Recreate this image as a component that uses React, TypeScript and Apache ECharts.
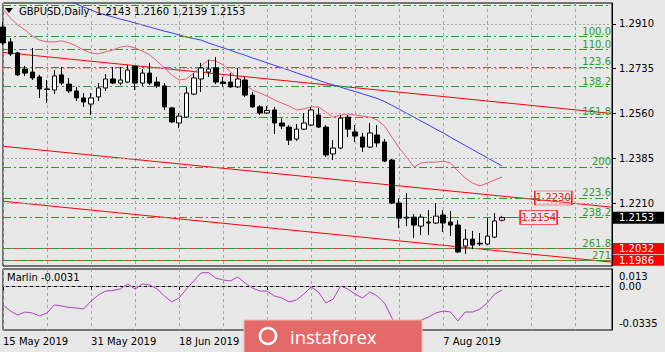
import React, { useEffect, useRef } from "react";
import * as echarts from "echarts";

// ---- categories (trading days) ----
const mayDays = [15, 16, 17, 20, 21, 22, 23, 24, 27, 28, 29, 30, 31];
const junDays = [3, 4, 5, 6, 7, 10, 11, 12, 13, 14, 17, 18, 19, 20, 21, 24, 25, 26, 27, 28];
const julDays = [1, 2, 3, 4, 5, 8, 9, 10, 11, 12, 15, 16, 17, 18, 19, 22, 23, 24, 25, 26, 29, 30, 31];
const augDays = [1, 2, 5, 6, 7, 8, 9, 12, 13, 14, 15, 16, 19];
const SLOTS = 84; // visible bar slots on the chart
// date labels covered by the watermark in the reference
const hiddenLabelSlots = [36, 48];

// ---- candles: [open, close, low, high] ----
const candles = [
  [1.2898, 1.2836, 1.2828, 1.2918],
  [1.2840, 1.2793, 1.2785, 1.2855],
  [1.2797, 1.2711, 1.2707, 1.2801],
  [1.2734, 1.2718, 1.2707, 1.2746],
  [1.2722, 1.2699, 1.2691, 1.2816],
  [1.2703, 1.2656, 1.2621, 1.2711],
  [1.2656, 1.2654, 1.2601, 1.2691],
  [1.2652, 1.2707, 1.2636, 1.2730],
  [1.2711, 1.2679, 1.2671, 1.2742],
  [1.2675, 1.2648, 1.2640, 1.2699],
  [1.2648, 1.2621, 1.2609, 1.2664],
  [1.2621, 1.2605, 1.2586, 1.2640],
  [1.2597, 1.2621, 1.2554, 1.2640],
  [1.2625, 1.2660, 1.2609, 1.2679],
  [1.2660, 1.2695, 1.2648, 1.2714],
  [1.2695, 1.2679, 1.2675, 1.2742],
  [1.2679, 1.2691, 1.2671, 1.2742],
  [1.2683, 1.2730, 1.2679, 1.2750],
  [1.2744, 1.2679, 1.2652, 1.2746],
  [1.2679, 1.2718, 1.2668, 1.2734],
  [1.2718, 1.2679, 1.2671, 1.2758],
  [1.2683, 1.2668, 1.2660, 1.2703],
  [1.2668, 1.2586, 1.2574, 1.2679],
  [1.2582, 1.2527, 1.2523, 1.2586],
  [1.2523, 1.2550, 1.2503, 1.2562],
  [1.2546, 1.2640, 1.2542, 1.2664],
  [1.2636, 1.2699, 1.2632, 1.2718],
  [1.2695, 1.2738, 1.2644, 1.2758],
  [1.2722, 1.2734, 1.2703, 1.2769],
  [1.2738, 1.2683, 1.2675, 1.2781],
  [1.2683, 1.2677, 1.2664, 1.2703],
  [1.2683, 1.2664, 1.2660, 1.2718],
  [1.2664, 1.2695, 1.2660, 1.2738],
  [1.2691, 1.2632, 1.2625, 1.2703],
  [1.2632, 1.2586, 1.2582, 1.2644],
  [1.2586, 1.2562, 1.2554, 1.2593],
  [1.2562, 1.2572, 1.2558, 1.2589],
  [1.2574, 1.2523, 1.2480, 1.2586],
  [1.2523, 1.2511, 1.2499, 1.2542],
  [1.2507, 1.2456, 1.2437, 1.2515],
  [1.2460, 1.2499, 1.2453, 1.2519],
  [1.2499, 1.2523, 1.2496, 1.2562],
  [1.2515, 1.2574, 1.2511, 1.2586],
  [1.2554, 1.2507, 1.2503, 1.2582],
  [1.2507, 1.2398, 1.2390, 1.2515],
  [1.2402, 1.2425, 1.2378, 1.2456],
  [1.2425, 1.2542, 1.2421, 1.2554],
  [1.2546, 1.2499, 1.2468, 1.2554],
  [1.2488, 1.2472, 1.2449, 1.2515],
  [1.2468, 1.2429, 1.2410, 1.2484],
  [1.2429, 1.2484, 1.2425, 1.2523],
  [1.2476, 1.2445, 1.2429, 1.2515],
  [1.2449, 1.2374, 1.2370, 1.2460],
  [1.2378, 1.2210, 1.2206, 1.2382],
  [1.2210, 1.2151, 1.2112, 1.2226],
  [1.2151, 1.2155, 1.2120, 1.2249],
  [1.2155, 1.2124, 1.2073, 1.2167],
  [1.2120, 1.2155, 1.2085, 1.2167],
  [1.2136, 1.2132, 1.2085, 1.2183],
  [1.2132, 1.2159, 1.2128, 1.2210],
  [1.2163, 1.2132, 1.2097, 1.2183],
  [1.2136, 1.2124, 1.2081, 1.2179],
  [1.2124, 1.2019, 1.2015, 1.2143],
  [1.2042, 1.2069, 1.2011, 1.2108],
  [1.2069, 1.2046, 1.2030, 1.2101],
  [1.2053, 1.2050, 1.2042, 1.2093],
  [1.2050, 1.2081, 1.2046, 1.2151],
  [1.2077, 1.2140, 1.2073, 1.2171],
  [1.2143, 1.2153, 1.2139, 1.2160],
];

// ---- moving averages ----
const pinkMA = [
  1.2969, 1.2933, 1.2906, 1.2887, 1.2863, 1.2847, 1.2840, 1.2840, 1.2844, 1.2836,
  1.2824, 1.2808, 1.2797, 1.2793, 1.2801, 1.2808, 1.2820, 1.2824, 1.2816, 1.2804,
  1.2789, 1.2765, 1.2738, 1.2711, 1.2691, 1.2695, 1.2718, 1.2746, 1.2769, 1.2765,
  1.2750, 1.2722, 1.2699, 1.2671, 1.2652, 1.2640, 1.2628, 1.2613, 1.2601, 1.2589,
  1.2574, 1.2578, 1.2586, 1.2586, 1.2566, 1.2546, 1.2554, 1.2558, 1.2554, 1.2550,
  1.2546, 1.2535, 1.2511, 1.2468, 1.2425, 1.2390, 1.2351, 1.2367, 1.2370, 1.2370,
  1.2374, 1.2367, 1.2335, 1.2308, 1.2288, 1.2277, 1.2288, 1.2300, 1.2312,
];
const blueMA = [
  null, null, null, null, null, null, null, null, 1.3012, 1.3000,
  1.2988, 1.2976, 1.2965, 1.2953, 1.2945, 1.2937, 1.2929, 1.2922, 1.2914, 1.2906,
  1.2898, 1.2890, 1.2882, 1.2875, 1.2867, 1.2859, 1.2853, 1.2847, 1.2836, 1.2826,
  1.2817, 1.2807, 1.2797, 1.2788, 1.2777, 1.2768, 1.2758, 1.2748, 1.2739, 1.2729,
  1.2719, 1.2709, 1.2700, 1.2690, 1.2680, 1.2672, 1.2663, 1.2654, 1.2646, 1.2637,
  1.2628, 1.2619, 1.2607, 1.2592, 1.2577, 1.2561, 1.2546, 1.2530, 1.2515, 1.2499,
  1.2484, 1.2467, 1.2451, 1.2435, 1.2419, 1.2403, 1.2387, 1.2371, 1.2355,
];

// ---- Marlin oscillator ----
const marlin = [
  -0.0144, -0.0190, -0.0221, -0.0198, -0.0205, -0.0228, -0.0205, -0.0144, -0.0152, -0.0163,
  -0.0167, -0.0175, -0.0114, -0.0068, -0.0038, -0.0034, -0.0022, 0.0016, -0.0022, 0.0016,
  0.0008, -0.0022, -0.0076, -0.0121, -0.0091, -0.0022, 0.0039, 0.0100, 0.0103, 0.0061,
  0.0046, 0.0039, 0.0069, 0.0023, -0.0015, -0.0038, -0.0038, -0.0076, -0.0091, -0.0121,
  -0.0106, -0.0061, -0.0007, -0.0045, -0.0129, -0.0099, 0.0000, -0.0022, -0.0061, -0.0091,
  -0.0045, -0.0076, -0.0129, -0.0243, -0.0373, -0.0411, -0.0335, -0.0259, -0.0236, -0.0205,
  -0.0190, -0.0198, -0.0266, -0.0198, -0.0198, -0.0175, -0.0129, -0.0061, -0.0031,
];

// ---- trend lines (price at first slot, price at last slot) ----
const upperLine = [1.2799, 1.2560];
const middleLine = [1.2432, 1.2194];
const lowerLine = [1.2217, 1.1979];

// ---- fibonacci expansion levels ----
const fibNames = ["", "100.0", "110.0", "123.6", "138.2", "161.8", "200", "223.6", "238.2", "261.8", "271"];
const fibPrices = [1.2984, 1.2863, 1.2812, 1.2742, 1.2667, 1.2547, 1.2351, 1.2230, 1.2155, 1.2034, 1.1987];

// ---- axis ticks / price labels ----
const priceTicks = [1.2210, 1.2385, 1.2560, 1.2735, 1.2910];
const marlinTicks = [-0.0335, 0, 0.013];
const supportLevels = [1.2032, 1.1986];
const boxLabels = [
  { slot: 75, price: 1.2230 },
  { slot: 73, price: 1.2154 },
];
const priceRange = [1.1964, 1.2992];
const marlinRange = [-0.0335, 0.013];

const FONT = "'DejaVu Sans', Verdana, sans-serif";
const BG = "#e8e8e8";
const GREEN = "#2f9a2f";

function buildOption() {
  const dateLabels = [
    ...mayDays.map((d) => `${d} May 2019`),
    ...junDays.map((d) => `${d} Jun 2019`),
    ...julDays.map((d) => `${d} Jul 2019`),
    ...augDays.map((d) => `${d} Aug 2019`),
  ];
  const cats = Array.from({ length: SLOTS }, (_, i) => dateLabels[i] ?? "");
  const last = candles[candles.length - 1];
  const lastSlot = candles.length - 1;
  const title = `GBPUSD,Daily  ${last[0].toFixed(4)} ${last[3].toFixed(4)} ${last[2].toFixed(4)} ${last[1].toFixed(4)}`;
  const vSplit = {
    show: true,
    interval: (i: number) => i % 6 === 0,
    lineStyle: { color: "#a4a4a4", type: [3, 3], width: 1 },
  };

  return {
    animation: false,
    backgroundColor: BG,
    textStyle: { fontFamily: FONT },
    grid: [
      { left: 3, right: 53, top: 3, bottom: 86, show: true, borderColor: "#000", borderWidth: 1 },
      { left: 3, right: 53, top: 269, bottom: 22, show: true, borderColor: "#000", borderWidth: 1 },
    ],
    xAxis: [
      {
        type: "category",
        gridIndex: 0,
        data: cats,
        boundaryGap: false,
        axisLine: { show: false },
        axisTick: { show: false },
        axisLabel: { show: false },
        splitLine: vSplit,
      },
      {
        type: "category",
        gridIndex: 1,
        data: cats,
        boundaryGap: false,
        axisLine: { show: true, lineStyle: { color: "#000" } },
        axisTick: {
          show: true,
          interval: (i: number) => i % 12 === 0 && i < dateLabels.length,
          length: 4,
          lineStyle: { color: "#000" },
        },
        axisLabel: {
          show: true,
          interval: (i: number) => i % 12 === 0 && !hiddenLabelSlots.includes(i),
          align: "left",
          color: "#000",
          fontSize: 10,
          margin: 6,
          fontFamily: FONT,
        },
        splitLine: vSplit,
      },
    ],
    yAxis: [
      {
        type: "value",
        gridIndex: 0,
        position: "right",
        min: priceRange[0],
        max: priceRange[1],
        axisLine: { show: true, lineStyle: { color: "#000" } },
        axisTick: { show: true, customValues: priceTicks, length: 4, lineStyle: { color: "#000" } },
        axisLabel: {
          customValues: priceTicks,
          formatter: (v: number) => v.toFixed(4),
          color: "#000",
          fontSize: 10,
          margin: 7,
          fontFamily: FONT,
        },
        splitLine: { show: false },
      },
      {
        type: "value",
        gridIndex: 1,
        position: "right",
        min: marlinRange[0],
        max: marlinRange[1],
        axisLine: { show: true, lineStyle: { color: "#000" } },
        axisTick: { show: false },
        axisLabel: {
          customValues: marlinTicks,
          formatter: (v: number) => {
            if (Math.abs(v - marlinRange[1]) < 1e-6) return `{t|${v}}`;
            if (Math.abs(v - marlinRange[0]) < 1e-6) return `{b|${v}}`;
            return v.toFixed(2);
          },
          color: "#000",
          fontSize: 10,
          margin: 7,
          fontFamily: FONT,
          rich: {
            t: { padding: [14, 0, 0, 0], fontSize: 10, color: "#000", fontFamily: FONT },
            b: { padding: [0, 0, 14, 0], fontSize: 10, color: "#000", fontFamily: FONT },
          },
        },
        splitLine: { show: false },
      },
    ],
    series: [
      // horizontal grid + fib levels + support lines
      {
        name: "upper",
        type: "line",
        xAxisIndex: 0,
        yAxisIndex: 0,
        data: [
          [0, upperLine[0]],
          [SLOTS - 1, upperLine[1]],
        ],
        showSymbol: false,
        lineStyle: { color: "#ff0000", width: 1 },
        z: 3,
        silent: true,
        markLine: {
          silent: true,
          precision: 5,
          symbol: ["none", "none"],
          animation: false,
          data: [
            ...priceTicks.map((p) => ({
              yAxis: p,
              lineStyle: { color: "#a8a8a8", type: [2, 2], width: 1 },
              label: { show: false },
            })),
            ...supportLevels.map((p) => ({
              yAxis: p,
              lineStyle: { color: "#f04848", type: "solid", width: 1 },
              label: {
                show: true,
                position: "end",
                distance: 1,
                formatter: p.toFixed(4),
                backgroundColor: "#ff0000",
                color: "#fff",
                fontSize: 10,
                fontFamily: FONT,
                padding: [0, 10, 0, 6],
                lineHeight: 11,
              },
            })),
            ...fibPrices.map((p, k) => ({
              yAxis: p,
              name: fibNames[k],
              lineStyle: { color: GREEN, type: [8, 3, 2, 3], width: 1 },
              label: {
                show: fibNames[k] !== "",
                position: "insideEndTop",
                formatter: "{b}",
                color: GREEN,
                fontSize: 10,
                fontFamily: FONT,
                distance: [1, 0],
              },
            })),
          ],
        },
      },
      {
        name: "middle",
        type: "line",
        xAxisIndex: 0,
        yAxisIndex: 0,
        data: [
          [0, middleLine[0]],
          [SLOTS - 1, middleLine[1]],
        ],
        showSymbol: false,
        lineStyle: { color: "#ff0000", width: 1 },
        z: 3,
        silent: true,
        markLine: {
          silent: true,
          precision: 5,
          symbol: ["none", "none"],
          label: { show: false },
          lineStyle: { color: "#ff2020", type: "solid", width: 1 },
          data: [
            [
              { coord: [lastSlot, boxLabels[1].price] },
              { coord: [lastSlot + 2, boxLabels[1].price] },
            ],
            {
              yAxis: last[1],
              lineStyle: { color: "rgba(0,0,0,0)", width: 0 },
              label: {
                show: true,
                position: "end",
                distance: 1,
                formatter: last[1].toFixed(4),
                backgroundColor: "#000",
                color: "#fff",
                fontSize: 10,
                fontFamily: FONT,
                padding: [1, 10, 1, 6],
              },
            },
          ],
        },
        markPoint: {
          silent: true,
          symbol: "rect",
          symbolSize: [37, 14],
          itemStyle: { color: "rgba(255,255,255,0.12)", borderColor: "#ff2020", borderWidth: 1 },
          label: {
            show: true,
            position: "inside",
            color: "#ee2020",
            fontSize: 10,
            fontFamily: FONT,
            formatter: (p: any) => Number(p.value).toFixed(4),
          },
          data: boxLabels.map((b) => ({ coord: [b.slot, b.price], value: b.price })),
        },
      },
      {
        name: "lower",
        type: "line",
        xAxisIndex: 0,
        yAxisIndex: 0,
        data: [
          [0, lowerLine[0]],
          [SLOTS - 1, lowerLine[1]],
        ],
        showSymbol: false,
        lineStyle: { color: "#ff0000", width: 1 },
        z: 3,
        silent: true,
      },
      {
        name: "MA fast",
        type: "line",
        xAxisIndex: 0,
        yAxisIndex: 0,
        data: pinkMA,
        showSymbol: false,
        lineStyle: { color: "#ec5a76", width: 1 },
        z: 4,
        silent: true,
      },
      {
        name: "MA slow",
        type: "line",
        xAxisIndex: 0,
        yAxisIndex: 0,
        data: blueMA,
        showSymbol: false,
        connectNulls: false,
        lineStyle: { color: "#3a3af0", width: 1 },
        z: 4,
        silent: true,
      },
      {
        name: "GBPUSD",
        type: "candlestick",
        xAxisIndex: 0,
        yAxisIndex: 0,
        data: candles,
        barWidth: 5,
        z: 5,
        itemStyle: {
          color: "#ffffff",
          color0: "#000000",
          borderColor: "#000000",
          borderColor0: "#000000",
          borderWidth: 1,
        },
      },
      {
        name: "Marlin",
        type: "line",
        xAxisIndex: 1,
        yAxisIndex: 1,
        data: marlin,
        showSymbol: false,
        lineStyle: { color: "#b040c0", width: 1 },
        z: 4,
        silent: true,
        markLine: {
          silent: true,
          precision: 5,
          symbol: ["none", "none"],
          label: { show: false },
          data: [{ yAxis: 0, lineStyle: { color: "#a0a0a0", type: [3, 3], width: 1 } }],
        },
      },
    ],
    graphic: [
      {
        type: "polygon",
        shape: { points: [[5, 8], [13, 8], [9, 13]] },
        style: { fill: "#000" },
        z: 100,
      },
      {
        type: "text",
        left: 19,
        top: 6,
        style: { text: title, fill: "#000", font: `10px ${FONT}` },
        z: 100,
      },
      {
        type: "text",
        left: 7,
        top: 272,
        style: { text: `Marlin ${marlin[marlin.length - 1].toFixed(4)}`, fill: "#000", font: `10px ${FONT}` },
        z: 100,
      },
      {
        type: "rect",
        shape: { x: 244, y: 320, width: 178, height: 34 },
        style: { fill: "#e46a6a", stroke: "#f3b5b5", lineWidth: 1 },
        z: 300,
        zlevel: 1,
      },
      {
        type: "circle",
        shape: { cx: 268, cy: 336, r: 8 },
        style: { fill: "none", stroke: "#fff", lineWidth: 2.5 },
        z: 301,
        zlevel: 1,
      },
      {
        type: "text",
        x: 290,
        y: 336,
        style: {
          text: "instaforex",
          fill: "#fff",
          font: "18.5px 'Open Sans', sans-serif",
          verticalAlign: "middle",
        },
        z: 302,
        zlevel: 1,
      },
    ],
  };
}

export default function App() {
  const ref = useRef<HTMLDivElement>(null);
  useEffect(() => {
    if (!ref.current) return;
    const chart = echarts.init(ref.current, undefined, { renderer: "svg" });
    chart.setOption(buildOption() as any);
    return () => chart.dispose();
  }, []);
  return (
    <div
      ref={ref}
      style={{ position: "fixed", left: 0, top: 0, width: 665, height: 352 }}
    />
  );
}
